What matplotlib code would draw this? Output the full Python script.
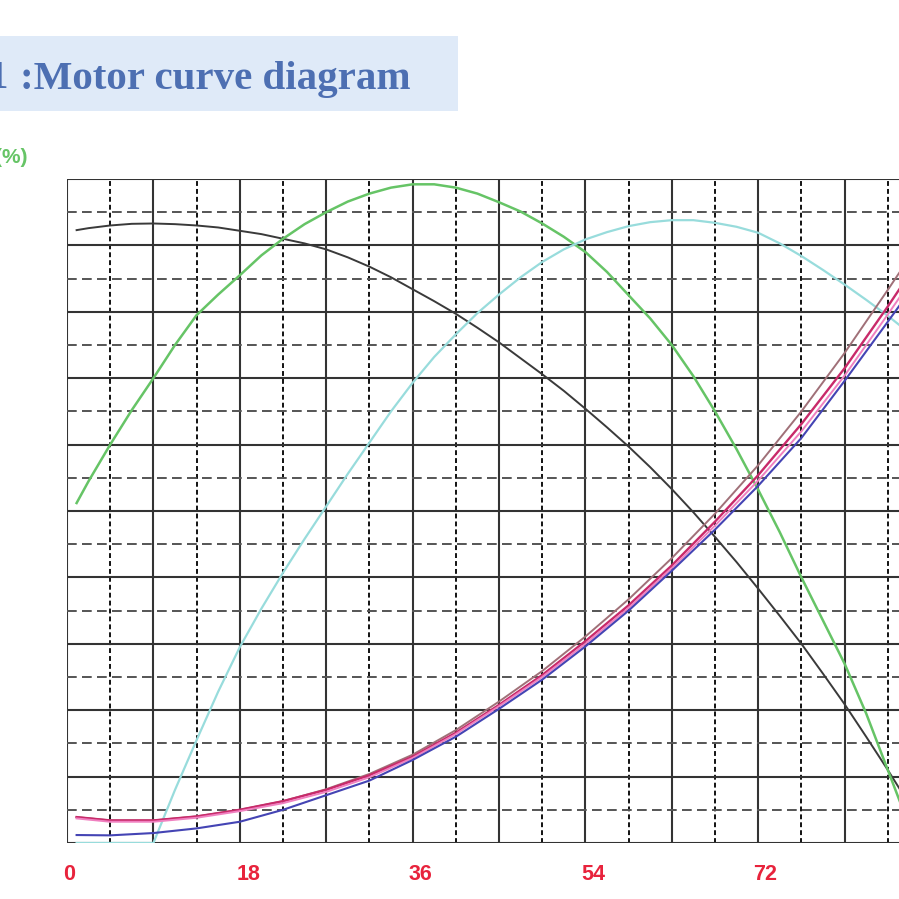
import numpy as np
import matplotlib
matplotlib.use("Agg")
import matplotlib.pyplot as plt
import matplotlib.transforms as mtransforms

plt.rcParams['lines.scale_dashes'] = False

x_fine = [1, 2.25, 4.5, 6.75, 9, 11.25, 13.5, 15.75, 18, 20.25, 22.5, 24.75, 27, 29.25,
          31.5, 33.75, 36, 38.25, 40.5, 42.75, 45, 47.25, 49.5, 51.75, 54, 56.25, 58.5,
          60.75, 63, 65.25, 67.5, 69.75, 72, 74.25, 76.5, 78.75, 81, 83.25, 85.5, 87.75, 90]

speed = [92.3, 92.6, 93.0, 93.25, 93.3, 93.2, 93.0, 92.7, 92.2, 91.7, 91.0, 90.3, 89.4, 88.2,
         86.8, 85.2, 83.4, 81.6, 79.7, 77.6, 75.4, 73.0, 70.6, 68.1, 65.4, 62.6, 59.7,
         56.6, 53.3, 49.8, 46.1, 42.3, 38.3, 34.2, 30.0, 25.5, 20.9, 16.0, 11.0, 5.8, 0.5]
efficiency = [51.2, 54.5, 60.0, 65.2, 70.0, 75.0, 79.5, 82.6, 85.5, 88.5, 91.0, 93.2, 95.0, 96.6,
              97.8, 98.7, 99.2, 99.2, 98.7, 97.8, 96.5, 95.1, 93.3, 91.3, 89.0, 86.0, 82.5,
              79.0, 75.0, 70.3, 65.0, 59.3, 53.2, 46.8, 40.0, 33.5, 27.0, 19.5, 11.0, 2.5, -6.0]
output = [0, 0, 0, 0, 0, 8.0, 15.5, 22.8, 29.5, 35.3, 40.7, 45.8, 50.7, 55.6,
          60.3, 65.0, 69.3, 73.2, 76.6, 79.8, 82.6, 85.2, 87.5, 89.4, 90.9, 92.0, 92.9,
          93.5, 93.8, 93.8, 93.4, 92.8, 91.9, 90.3, 88.4, 86.3, 84.1, 81.8, 79.4, 76.8, 74.0]

x_cur = [1, 4.5, 9, 13.5, 18, 22.5, 27, 31.5, 36, 40.5, 45, 49.5, 54, 58.5, 63, 67.5, 72, 76.5, 81, 85.5, 90]
torque = [3.9, 3.4, 3.4, 4.0, 5.0, 6.3, 8.1, 10.4, 13.3, 17.0, 21.3, 25.9, 31.1, 36.7, 42.9, 49.6, 56.9, 65.0, 73.8, 83.3, 93.0]
current_a = [3.9, 3.4, 3.4, 4.0, 5.0, 6.3, 8.0, 10.2, 13.0, 16.6, 20.8, 25.3, 30.4, 35.8, 41.8, 48.4, 55.4, 63.1, 71.5, 80.8, 90.5]
current_b = [3.7, 3.2, 3.2, 3.8, 4.8, 6.0, 7.7, 9.9, 12.8, 16.4, 20.6, 25.0, 30.0, 35.4, 41.4, 47.8, 54.6, 62.0, 70.4, 79.6, 89.0]
current_c = [1.2, 1.15, 1.5, 2.2, 3.2, 5.0, 7.2, 9.4, 12.5, 16.0, 20.2, 24.6, 29.6, 35.0, 41.0, 47.2, 53.8, 61.0, 69.6, 78.5, 87.5]

xtick_vals = [0, 18, 36, 54, 72]
xtick_labels = ['0', '18', '36', '54', '72']
label_shift_px = [2, 9, 8, 8, 7]

fig = plt.figure(figsize=(8.99, 8.99), dpi=100)
fig.patch.set_facecolor('white')

# axes run off the right edge of the picture, like the cropped original
ax = fig.add_axes([67 / 899, 56 / 899, 864 / 899, 664 / 899])
ax.set_xlim(0, 90)
ax.set_ylim(0, 100)

# grid: solid every 9 / 10, dashed in between
for gx in np.arange(0, 91, 9):
    ax.axvline(gx, color='#333333', lw=1.5, zorder=1)
for gx in np.arange(4.5, 90, 9):
    ax.axvline(gx, color='#111111', lw=1.4, dashes=(3.5, 2.2), zorder=1)
for gy in np.arange(0, 101, 10):
    ax.axhline(gy, color='#333333', lw=1.5, zorder=1)
for gy in np.arange(5, 100, 10):
    ax.axhline(gy, color='#555555', lw=1.4, dashes=(7, 3.8), zorder=1)

ax.plot(x_fine, speed, color='#3a3a3a', lw=1.4, zorder=3)
ax.plot(x_fine, efficiency, color='#66c466', lw=1.8, zorder=3)
ax.plot(x_fine, output, color='#98dcdc', lw=1.6, zorder=3)
ax.plot(x_cur, torque, color='#a07078', lw=1.4, zorder=3)
ax.plot(x_cur, current_a, color='#c82a6a', lw=1.7, zorder=3)
ax.plot(x_cur, current_b, color='#f080c0', lw=1.4, zorder=3)
ax.plot(x_cur, current_c, color='#4444b4', lw=1.5, zorder=3)

for s in ax.spines.values():
    s.set_visible(False)

ax.set_yticks([])
ax.set_xticks(xtick_vals)
ax.set_xticklabels(xtick_labels)
ax.tick_params(axis='x', length=0, pad=15)
for lab, dx in zip(ax.get_xticklabels(), label_shift_px):
    lab.set_fontfamily('Liberation Sans')
    lab.set_fontweight('bold')
    lab.set_fontsize(15.5)
    lab.set_color('#e8233c')
    off = mtransforms.ScaledTranslation(dx / 100, 0, fig.dpi_scale_trans)
    lab.set_transform(lab.get_transform() + off)

# title band
fig.patches.append(plt.Rectangle((0, 1 - 111 / 899), 458 / 899, 75 / 899,
                                 transform=fig.transFigure, facecolor='#dfeaf8',
                                 edgecolor='none', zorder=0))
fig.text(8 / 899, 1 - 79 / 899, '1', fontsize=29.5,
         fontfamily='Liberation Serif', fontweight='bold', color='#4d6fb2',
         ha='right', va='center')
fig.text(20 / 899, 1 - 79 / 899, ':Motor curve diagram', fontsize=29.5,
         fontfamily='Liberation Serif', fontweight='bold', color='#4d6fb2',
         ha='left', va='center')

fig.text(27 / 899, 1 - 158 / 899, '(%)', fontsize=15, fontfamily='Liberation Sans',
         fontweight='bold', color='#66c466', ha='right', va='center')

fig.savefig('out.png', dpi=100, facecolor='white')
